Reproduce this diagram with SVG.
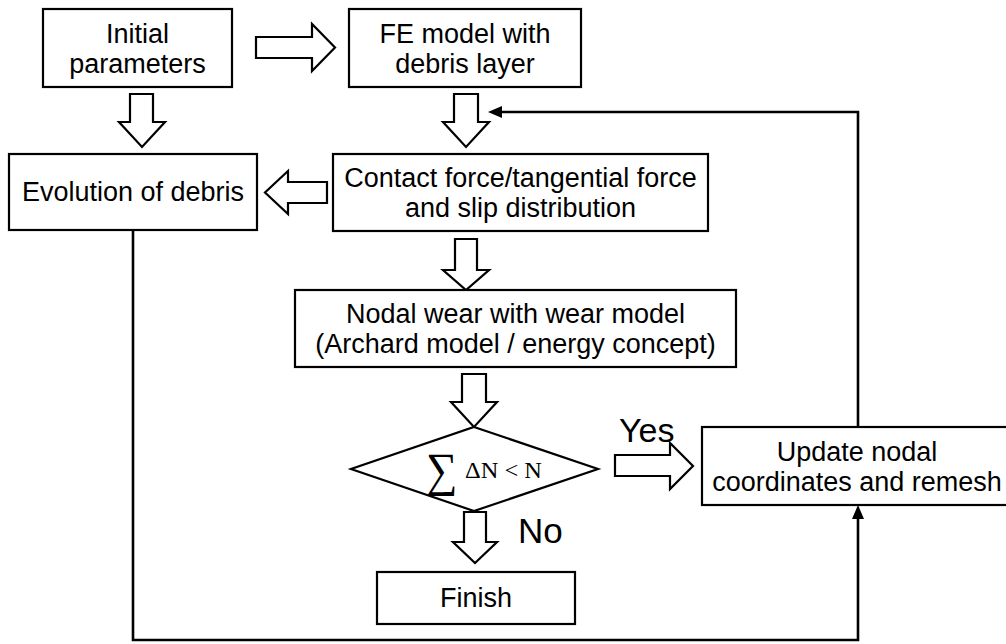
<svg xmlns="http://www.w3.org/2000/svg" width="1006" height="644" viewBox="0 0 1006 644">
<style>
.box{fill:#fff;stroke:#000;stroke-width:2.2}
.blk{fill:#fff;stroke:#000;stroke-width:2.2;stroke-linejoin:miter}
.lbl{font-family:"Liberation Sans",Arial,sans-serif;font-size:27px;fill:#000;text-anchor:middle}
.big{font-family:"Liberation Sans",Arial,sans-serif;fill:#000}
.con{fill:none;stroke:#000;stroke-width:2.6}
.math{font-family:"Liberation Serif","DejaVu Serif",serif;fill:#000}
</style>
<defs>
<marker id="ah" markerUnits="userSpaceOnUse" markerWidth="15" markerHeight="12" refX="0" refY="6" orient="auto" overflow="visible">
<path d="M0,0 L14,6 L0,12 Z" fill="#000"/>
</marker>
</defs>
<rect width="1006" height="644" fill="#fff"/>

<g id="connectors">
<polyline class="con" points="858,427 858,112 502,112" marker-end="url(#ah)"/>
<polyline class="con" points="133,230 133,640 858,640 858,519" marker-end="url(#ah)"/>
</g>

<g id="block-arrows">
<path class="blk" d="M256,37 H312 V24 L335,47.5 L312,71 V58 H256 Z"/>
<path class="blk" d="M130,94 H153 V122 H165 L142,147 L119,122 H130 Z"/>
<path class="blk" d="M454,94 H478 V122 H489 L466,147 L443,122 H454 Z"/>
<path class="blk" d="M327,182 V203 H288 V214 L265,192.5 L288,171 V182 Z"/>
<path class="blk" d="M455,239 H477 V270 H489 L466,290 L443,270 H455 Z"/>
<path class="blk" d="M462,374 H486 V402 H497 L474,427 L451,402 H462 Z"/>
<path class="blk" d="M615,455 H670 V443 L693,466 L670,489 V476 H615 Z"/>
<path class="blk" d="M464,512 H486 V542 H497 L475,563 L453,542 H464 Z"/>
</g>

<g id="initial">
<rect class="box" x="43" y="9" width="189" height="78"/>
<text class="lbl" x="137.5" y="43">Initial</text>
<text class="lbl" x="137.5" y="73">parameters</text>
</g>

<g id="fe-model">
<rect class="box" x="349" y="9" width="232" height="78"/>
<text class="lbl" x="465" y="43">FE model with</text>
<text class="lbl" x="465" y="73">debris layer</text>
</g>

<g id="evolution">
<rect class="box" x="9" y="154" width="248" height="76"/>
<text class="lbl" x="133" y="201">Evolution of debris</text>
</g>

<g id="contact">
<rect class="box" x="333" y="154" width="375" height="77"/>
<text class="lbl" x="520.5" y="186.5">Contact force/tangential force</text>
<text class="lbl" x="520.5" y="216.5">and slip distribution</text>
</g>

<g id="nodal-wear">
<rect class="box" x="295" y="290" width="441" height="77"/>
<text class="lbl" x="515.5" y="323">Nodal wear with wear model</text>
<text class="lbl" x="515.5" y="353">(Archard model / energy concept)</text>
</g>

<g id="decision">
<polygon class="box" points="474,427 598,469 474,511 351,469"/>
<text class="math" font-size="34" transform="translate(426,486) scale(1.3,1.4)">∑</text>
<text class="math" font-size="24" x="465" y="478" textLength="77" lengthAdjust="spacingAndGlyphs">ΔN &lt; N</text>
</g>

<g id="update">
<rect class="box" x="702" y="427" width="312" height="78"/>
<text class="lbl" x="857" y="461">Update nodal</text>
<text class="lbl" x="857" y="491">coordinates and remesh</text>
</g>

<g id="finish">
<rect class="box" x="377" y="572" width="198" height="52"/>
<text class="lbl" x="476" y="607">Finish</text>
</g>

<g id="edge-labels">
<text class="big" font-size="34" x="619" y="442">Yes</text>
<text class="big" font-size="35" x="518" y="543">No</text>
</g>
</svg>
